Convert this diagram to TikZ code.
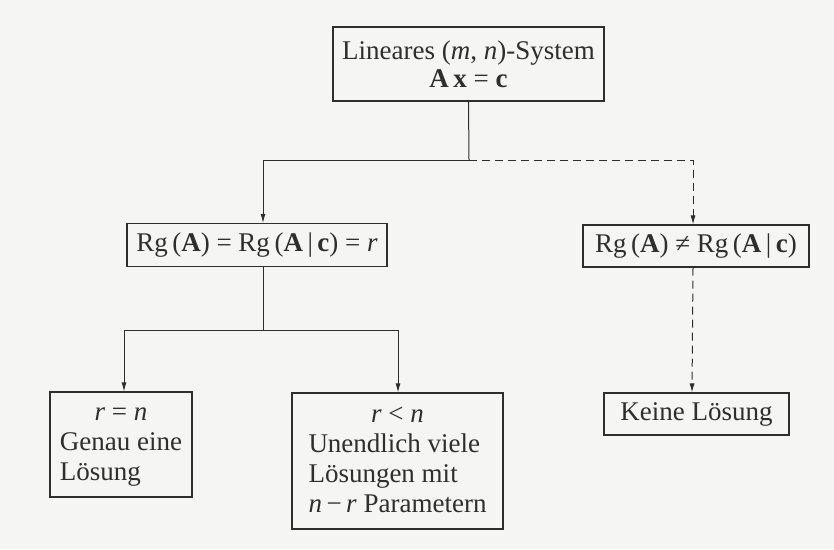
\documentclass[tikz,border=0pt]{standalone}
\usepackage{fontspec}
\setmainfont{Liberation Serif}
\usetikzlibrary{arrows.meta,calc}
\definecolor{ink}{HTML}{2E2E2E}
\definecolor{paper}{HTML}{F5F5F3}
\tikzset{
  box/.style={draw=ink, line width=1.1pt, text=ink, inner sep=0pt,
    font=\fontsize{27}{30}\selectfont, align=center},
  conn/.style={draw=ink, line width=1pt, -{Latex[length=9pt,width=5pt]}},
  plain/.style={draw=ink, line width=1pt},
  dconn/.style={conn, dash pattern=on 8pt off 5pt},
  dplain/.style={plain, dash pattern=on 8pt off 5pt}
}
\begin{document}
\begin{tikzpicture}[x=1pt,y=-1pt]
\fill[paper] (0,0) rectangle (834,549);
\useasboundingbox (0,0) rectangle (834,549);

\node[box, minimum width=271pt, minimum height=74pt] (top) at (468.5,64)
  {Lineares (\textit{m}, \textit{n})-System\\[-2pt] \textbf{A}\,\textbf{x} = \textbf{c}};
\node[box, minimum width=260pt, minimum height=43pt] (rg1) at (257,245)
  {Rg\,(\textbf{A}) = Rg\,(\textbf{A}\,|\,\textbf{c}) = \textit{r}};
\node[box, minimum width=226pt, minimum height=42pt] (rg2) at (696,246)
  {Rg\,(\textbf{A}) ≠ Rg\,(\textbf{A}\,|\,\textbf{c})};
\node[box, minimum width=142pt, minimum height=105pt] (b1) at (121,444.5)
  {\begin{tabular}{@{}l@{}}\multicolumn{1}{@{}c@{}}{\textit{r} = \textit{n}}\\ Genau eine\\ Lösung\end{tabular}};
\node[box, minimum width=211pt, minimum height=136pt] (b2) at (397.5,461)
  {\begin{tabular}{@{}l@{}}\multicolumn{1}{@{}c@{}}{\textit{r} < \textit{n}}\\ Unendlich viele\\ Lösungen mit\\ \textit{n}\,−\,\textit{r} Parametern\end{tabular}};
\node[box, minimum width=185pt, minimum height=42pt] (b3) at (696.5,414)
  {Keine Lösung};

\coordinate (j1) at (469,160);
\coordinate (j2) at (263,330);

\draw[plain] (top.south) -- (j1);
\draw[conn] (j1) -| ($(rg1.north)+(6,0)$);
\draw[dconn] (j1) -| ($(rg2.north)+(-3,0)$);
\draw[plain] ($(rg1.south)+(6,0)$) -- (j2);
\draw[conn] (j2) -| ($(b1.north)+(3,0)$);
\draw[conn] (j2) -| ($(b2.north)+(0.5,0)$);
\draw[dconn] ($(rg2.south)+(-3,0)$) -- ($(b3.north)+(-4.5,0)$);
\end{tikzpicture}
\end{document}
